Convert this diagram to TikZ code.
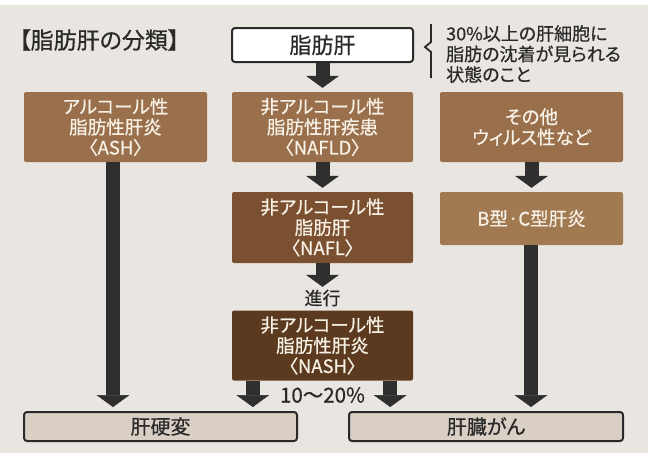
\documentclass[tikz,border=0pt]{standalone}
\usepackage{fontspec}
\setmainfont{Noto Sans CJK JP}[FakeBold=0.6,RawFeature=+palt]
\usetikzlibrary{arrows.meta}
\definecolor{bgc}{HTML}{E9E5E0}
\definecolor{brownA}{HTML}{9A704C}
\definecolor{brownBC}{HTML}{A27A52}
\definecolor{brownB}{HTML}{7A5031}
\definecolor{brownC}{HTML}{5B3A1F}
\definecolor{lightbox}{HTML}{D9CFC5}
\definecolor{darkline}{HTML}{2A2A2A}
\definecolor{arrowc}{HTML}{2F2F2F}
\definecolor{cream}{HTML}{F7F1E6}
\tikzset{
  brownbox/.style={rectangle, rounded corners=2pt, fill=brownA, text=cream, align=center, inner sep=0pt,
    font=\fontsize{18.5}{20.5}\selectfont},
  outlinebox/.style={rectangle, rounded corners=3pt, draw=darkline, line width=2pt, text=darkline, inner sep=0pt,
    font=\fontsize{20}{22}\selectfont},
  blk/.style={draw=arrowc, line width=14pt, -{Triangle[width=33pt,length=12pt,line width=0.5pt]}, shorten >=4pt},
  plaintext/.style={text=darkline, inner sep=0pt}
}
\begin{document}
\begin{tikzpicture}[x=1pt,y=-1pt]
\useasboundingbox (0,0) rectangle (653,459);
\fill[white] (0,0) rectangle (653,459);
\fill[bgc] (0,5) rectangle (648,453);

\node[plaintext, font=\fontsize{23}{25}\selectfont, anchor=west] (title) at (19,40) {【脂肪肝の分類】};

\node[outlinebox, fill=white, minimum width=181pt, minimum height=34pt, font=\fontsize{22}{24}\selectfont] (top) at (322.5,45) {脂肪肝};

\draw[darkline, line width=1.8pt] (431,24) -- (431,42) -- (425,47) -- (431,52) -- (431,78);
\node[plaintext, anchor=north west, align=left, font=\fontsize{18}{20.5}\selectfont] (desc) at (446,25) {30\%以上の肝細胞に\\脂肪の沈着が見られる\\状態のこと};

\node[brownbox, minimum width=183pt, minimum height=70pt] (ash) at (115.5,127) {アルコール性\\脂肪性肝炎\\〈ASH〉};
\node[brownbox, minimum width=181pt, minimum height=70pt] (nafld) at (322.5,127) {非アルコール性\\脂肪性肝疾患\\〈NAFLD〉};
\node[brownbox, minimum width=183pt, minimum height=70pt] (other) at (531.5,127) {その他\\ウィルス性など};
\node[brownbox, fill=brownB, minimum width=181pt, minimum height=71pt] (nafl) at (322.5,227.5) {非アルコール性\\脂肪肝\\〈NAFL〉};
\node[brownbox, fill=brownBC, minimum width=183pt, minimum height=53pt] (bc) at (531.5,218.5) {B型·C型肝炎};
\node[brownbox, fill=brownC, minimum width=181pt, minimum height=70pt] (nash) at (322.5,345.5) {非アルコール性\\脂肪性肝炎\\〈NASH〉};

\node[outlinebox, fill=lightbox, minimum width=273pt, minimum height=29pt] (kanko) at (160.5,426.5) {肝硬変};
\node[outlinebox, fill=lightbox, minimum width=274pt, minimum height=29pt] (gan) at (486,426.5) {肝臓がん};

\node[plaintext, font=\fontsize{18}{20}\selectfont] (shinko) at (322.5,298) {進行};
\node[plaintext, font=\fontsize{20.5}{22}\selectfont] (pct) at (322.5,395) {10〜20\%};

\draw[blk] (top.south) -- (nafld.north);
\draw[blk] (nafld.south) -- (nafl.north);
\draw[blk] (nafl.south) -- ([yshift=19.5pt]nafl.south |- nash.north);
\draw[blk] (other.south) -- (bc.north);
\draw[blk] ([xshift=-2.5pt]ash.south) -- ([xshift=-2.5pt]ash.south |- kanko.north);
\draw[blk] ([xshift=-0.5pt]bc.south) -- ([xshift=-0.5pt]bc.south |- gan.north);
\draw[blk] ([xshift=21pt]nash.south west) -- ([xshift=21pt]nash.south west |- kanko.north);
\draw[blk] ([xshift=-23pt]nash.south east) -- ([xshift=-23pt]nash.south east |- gan.north);
\end{tikzpicture}
\end{document}
